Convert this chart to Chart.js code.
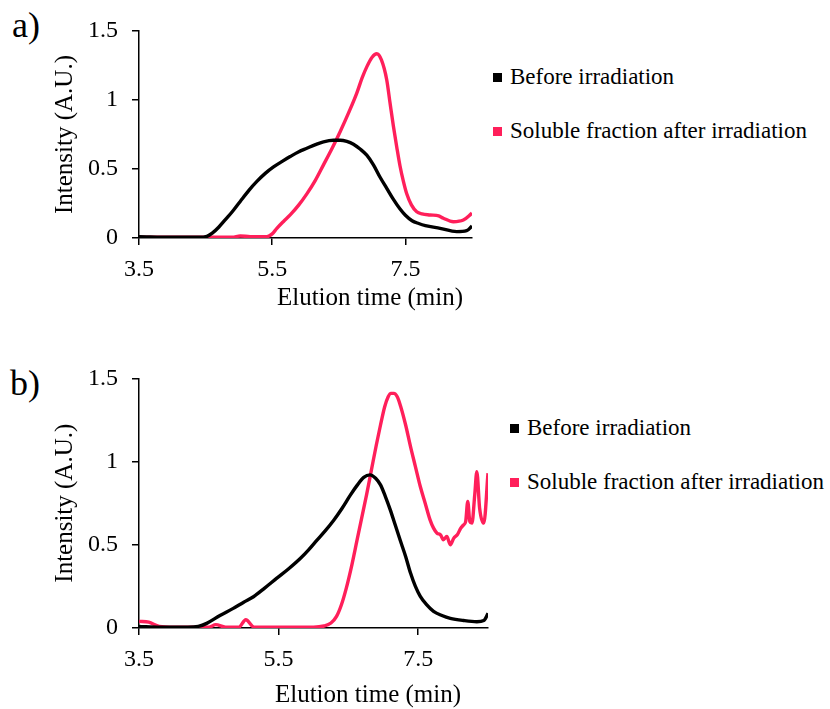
<!DOCTYPE html>
<html>
<head>
<meta charset="utf-8">
<title>Elution profiles</title>
<script src="https://cdn.jsdelivr.net/npm/chart.js@4.4.0/dist/chart.umd.min.js"></script>
<style>
  html, body { margin: 0; padding: 0; background: #fff; }
  body { width: 830px; height: 709px; position: relative; overflow: hidden;
         font-family: "Liberation Serif", Tinos, "Times New Roman", "DejaVu Serif", serif; color: #000; }
  canvas { position: absolute; left: 0; }
  .tag { position: absolute; font-size: 36px; line-height: 36px; }
  .xtitle { position: absolute; font-size: 25px; line-height: 25px; white-space: nowrap; transform: translateX(-50%); }
  .legend { position: absolute; font-size: 23px; line-height: 23px; white-space: nowrap; }
  .legend div { height: 23px; margin-bottom: 31px; }
  .legend i { display: inline-block; width: 9px; height: 9px; margin-right: 8px; vertical-align: 2px; }
</style>
</head>
<body>
<div class="tag" style="left:12px; top:7px;">a)</div>
<canvas id="chartA" width="480" height="320" style="top:0;"></canvas>
<div class="xtitle" style="left:370px; top:284px;">Elution time (min)</div>
<div class="legend" id="legendA" style="left:493px; top:65px;"></div>

<div class="tag" style="left:10px; top:365px;">b)</div>
<canvas id="chartB" width="500" height="359" style="top:350px;"></canvas>
<div class="xtitle" style="left:368px; top:681px;">Elution time (min)</div>
<div class="legend" id="legendB" style="left:510px; top:416px;"></div>

<script>
// --- data ---
const seriesNames = ['Before irradiation', 'Soluble fraction after irradiation'];
const seriesColors = ['#000000', '#ff1f5a'];
const xTicks = [3.5, 5.5, 7.5];
const yTicks = [0, 0.5, 1, 1.5];

// panel a)
const aBeforeTime = [3.5, 4.0, 4.4, 4.52, 4.6, 4.7, 4.8, 4.9, 5.02, 5.15, 5.27, 5.4, 5.52, 5.65, 5.77, 5.9, 6.02, 6.15, 6.27, 6.42, 6.52, 6.62, 6.72, 6.82, 6.92, 7.02, 7.12, 7.22, 7.32, 7.42, 7.5, 7.6, 7.7, 7.8, 8.02, 8.27, 8.42, 8.5];
const aBeforeInt  = [0.01, 0.005, 0.005, 0.012, 0.035, 0.08, 0.135, 0.19, 0.265, 0.345, 0.41, 0.47, 0.515, 0.555, 0.59, 0.625, 0.65, 0.677, 0.697, 0.708, 0.708, 0.7, 0.68, 0.645, 0.6, 0.53, 0.44, 0.36, 0.28, 0.21, 0.165, 0.125, 0.105, 0.09, 0.07, 0.046, 0.053, 0.087];
const aSolubleTime = [3.5, 4.5, 4.9, 5.02, 5.17, 5.42, 5.5, 5.57, 5.67, 5.77, 5.9, 6.02, 6.15, 6.27, 6.4, 6.52, 6.65, 6.77, 6.85, 6.92, 7.0, 7.07, 7.14, 7.22, 7.27, 7.32, 7.37, 7.42, 7.47, 7.52, 7.59, 7.67, 7.75, 7.87, 8.0, 8.07, 8.22, 8.37, 8.5];
const aSolubleInt  = [0.005, 0.005, 0.005, 0.015, 0.01, 0.01, 0.03, 0.07, 0.12, 0.167, 0.24, 0.32, 0.42, 0.53, 0.65, 0.77, 0.91, 1.05, 1.16, 1.24, 1.31, 1.335, 1.29, 1.145, 0.976, 0.81, 0.66, 0.52, 0.41, 0.32, 0.24, 0.19, 0.175, 0.167, 0.16, 0.143, 0.118, 0.13, 0.18];

// panel b)
const bBeforeTime = [3.5, 3.8, 4.2, 4.35, 4.47, 4.66, 4.85, 5.0, 5.14, 5.3, 5.47, 5.64, 5.81, 5.93, 6.05, 6.17, 6.29, 6.41, 6.53, 6.63, 6.72, 6.81, 6.89, 6.96, 7.03, 7.1, 7.17, 7.24, 7.32, 7.39, 7.46, 7.53, 7.62, 7.72, 7.84, 7.96, 8.15, 8.34, 8.44, 8.5];
const bBeforeInt  = [0.01, 0.005, 0.005, 0.01, 0.028, 0.075, 0.118, 0.155, 0.188, 0.24, 0.298, 0.355, 0.418, 0.47, 0.528, 0.585, 0.648, 0.72, 0.8, 0.86, 0.905, 0.92, 0.9, 0.86, 0.79, 0.71, 0.62, 0.53, 0.43, 0.33, 0.25, 0.19, 0.14, 0.1, 0.075, 0.058, 0.045, 0.038, 0.045, 0.088];
const bSolubleTime = [3.5, 3.64, 3.79, 4.0, 4.5, 4.6, 4.74, 4.93, 5.03, 5.15, 5.5, 6.0, 6.15, 6.25, 6.33, 6.4, 6.47, 6.55, 6.62, 6.69, 6.76, 6.83, 6.9, 6.96, 7.02, 7.07, 7.11, 7.15, 7.2, 7.25, 7.32, 7.39, 7.46, 7.53, 7.6, 7.67, 7.72, 7.77, 7.82, 7.86, 7.91, 7.96, 8.01, 8.06, 8.11, 8.15, 8.18, 8.21, 8.24, 8.27, 8.31, 8.34, 8.38, 8.44, 8.5];
const bSolubleInt  = [0.04, 0.035, 0.01, 0.005, 0.005, 0.02, 0.005, 0.005, 0.05, 0.005, 0.005, 0.005, 0.012, 0.03, 0.07, 0.14, 0.24, 0.38, 0.52, 0.66, 0.8, 0.95, 1.1, 1.22, 1.33, 1.39, 1.41, 1.41, 1.39, 1.33, 1.22, 1.09, 0.97, 0.85, 0.75, 0.65, 0.6, 0.57, 0.56, 0.53, 0.55, 0.5, 0.54, 0.56, 0.6, 0.62, 0.64, 0.76, 0.64, 0.63, 0.8, 0.94, 0.72, 0.63, 0.93];

const FONT = '"Liberation Serif", Tinos, "Times New Roman", "DejaVu Serif", serif';

function toPoints(xs, ys) {
    return xs.map((x, i) => ({ x: x, y: ys[i] }));
}

function makeDataset(i, xs, ys) {
    return {
        label: seriesNames[i],
        data: toPoints(xs, ys),
        borderColor: seriesColors[i],
        backgroundColor: seriesColors[i],
        borderWidth: 3.4,
        pointRadius: 0,
        fill: false,
        cubicInterpolationMode: 'monotone'
    };
}

// axis box sizes are fixed so the plot area lands where the reference has it
function makeChart(id, datasets, box) {
    const axisStyle = {
        grid: { drawOnChartArea: false, drawTicks: true, tickLength: 7, color: '#000', lineWidth: 1.5 },
        border: { display: true, color: '#000', width: 1.5 }
    };
    return new Chart(document.getElementById(id), {
        type: 'line',
        data: { datasets: datasets },
        options: {
            responsive: false,
            animation: false,
            layout: { padding: { top: box.top, right: box.right, left: 0, bottom: 0 } },
            plugins: { legend: { display: false }, tooltip: { enabled: false } },
            scales: {
                x: Object.assign({
                    type: 'linear', min: 3.5, max: 8.5,
                    afterBuildTicks: s => { s.ticks = xTicks.map(v => ({ value: v })); },
                    afterFit: s => { s.height = box.xHeight; },
                    ticks: { color: '#000', font: { family: FONT, size: 24 }, padding: 10, maxRotation: 0, autoSkip: false,
                             callback: v => String(v) }
                }, axisStyle),
                y: Object.assign({
                    type: 'linear', min: 0, max: 1.5,
                    afterBuildTicks: s => { s.ticks = yTicks.map(v => ({ value: v })); },
                    afterFit: s => { s.width = 139; },
                    ticks: { color: '#000', font: { family: FONT, size: 24 }, padding: 14,
                             callback: v => String(v) },
                    title: { display: true, text: 'Intensity (A.U.)', color: '#000',
                             font: { family: FONT, size: 25 }, padding: { top: 50, bottom: 0 } }
                }, axisStyle)
            }
        }
    });
}

function buildLegend(id) {
    const el = document.getElementById(id);
    seriesNames.forEach((name, i) => {
        const row = document.createElement('div');
        const mark = document.createElement('i');
        mark.style.background = seriesColors[i];
        row.appendChild(mark);
        row.appendChild(document.createTextNode(name));
        el.appendChild(row);
    });
}

makeChart('chartA', [
    makeDataset(0, aBeforeTime, aBeforeInt),
    makeDataset(1, aSolubleTime, aSolubleInt)
], { top: 31, right: 8, xHeight: 82 });

makeChart('chartB', [
    makeDataset(0, bBeforeTime, bBeforeInt),
    makeDataset(1, bSolubleTime, bSolubleInt)
], { top: 28, right: 12, xHeight: 81 });

buildLegend('legendA');
buildLegend('legendB');
</script>
</body>
</html>
